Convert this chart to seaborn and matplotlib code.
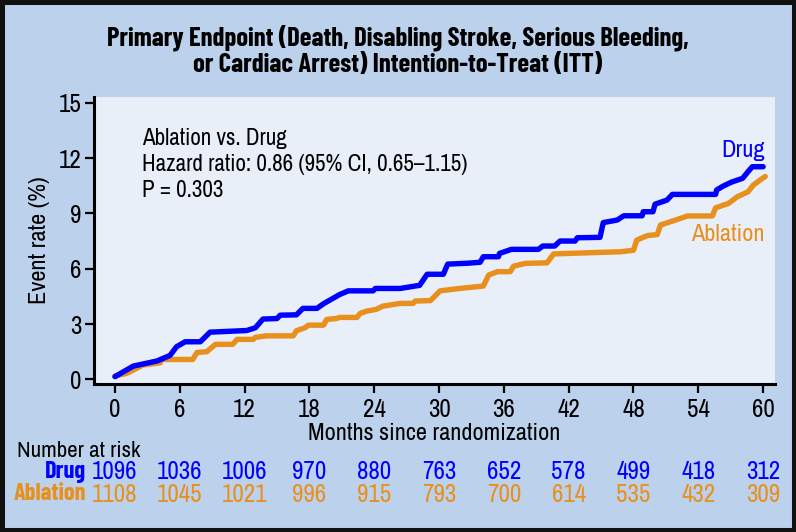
import matplotlib
matplotlib.use("Agg")
import matplotlib.pyplot as plt
import matplotlib.transforms as mtransforms
from matplotlib.patches import Rectangle
import seaborn as sns
import pandas as pd

# ---------------- data ----------------
drug_months = [0, 1.7, 3.9, 5.1, 5.7, 6.5, 7.9, 8.8, 12.2, 13.0, 13.7, 15.0, 15.3, 16.8, 17.4,
               18.7, 19.3, 19.9, 20.8, 21.6, 23.9, 24.1, 26.4, 28.2, 28.9, 30.4, 30.8, 32.7, 33.8,
               34.1, 35.5, 35.6, 36.7, 39.2, 39.6, 40.7, 41.2, 42.6, 42.8, 44.9, 45.2, 46.5, 47.1,
               48.8, 48.9, 49.8, 50.0, 51.1, 51.6, 55.6, 55.7, 56.3, 57.1, 58.1, 58.6, 59.0, 60.0]
drug_rate = [0.15, 0.72, 1.0, 1.3, 1.77, 2.04, 2.04, 2.56, 2.65, 2.8, 3.27, 3.3, 3.48, 3.5, 3.85,
             3.85, 4.1, 4.3, 4.6, 4.8, 4.8, 4.93, 4.93, 5.1, 5.7, 5.7, 6.25, 6.3, 6.35,
             6.65, 6.65, 6.83, 7.05, 7.05, 7.23, 7.23, 7.5, 7.5, 7.68, 7.7, 8.5, 8.64, 8.87,
             8.87, 9.09, 9.09, 9.5, 9.72, 10.03, 10.03, 10.27, 10.48, 10.7, 10.9, 11.26, 11.53, 11.53]

abl_months = [0, 1.1, 2.6, 4.2, 4.3, 7.2, 7.6, 8.5, 9.3, 10.9, 11.3, 12.8, 13.0, 14.0, 16.5,
              16.8, 17.6, 17.9, 19.3, 19.6, 20.5, 20.8, 22.4, 22.7, 23.3, 24.2, 24.8, 26.4, 27.6,
              27.8, 29.2, 30.1, 31.9, 34.1, 34.6, 35.4, 36.6, 36.9, 38.0, 40.0, 40.6, 42.0, 46.8,
              48.0, 48.3, 49.3, 50.2, 50.5, 51.9, 53.0, 55.3, 55.6, 56.8, 57.6, 58.6, 59.1, 59.7, 60.2]
abl_rate = [0.18, 0.33, 0.78, 0.9, 1.08, 1.08, 1.46, 1.5, 1.9, 1.9, 2.17, 2.17, 2.28, 2.36, 2.36,
            2.64, 2.8, 2.94, 2.94, 3.25, 3.3, 3.36, 3.36, 3.58, 3.7, 3.8, 3.97, 4.12, 4.12,
            4.25, 4.27, 4.8, 4.93, 5.06, 5.66, 5.84, 5.84, 6.14, 6.29, 6.32, 6.8, 6.83, 6.92,
            7.0, 7.55, 7.8, 7.85, 8.37, 8.64, 8.86, 8.86, 9.3, 9.54, 9.9, 10.17, 10.54, 10.8, 11.0]

x_ticks = [0, 6, 12, 18, 24, 30, 36, 42, 48, 54, 60]
y_ticks = [0, 3, 6, 9, 12, 15]
risk_drug = [1096, 1036, 1006, 970, 880, 763, 652, 578, 499, 418, 312]
risk_abl = [1108, 1045, 1021, 996, 915, 793, 700, 614, 535, 432, 309]

title_lines = ["Primary Endpoint (Death, Disabling Stroke, Serious Bleeding,",
               "or Cardiac Arrest) Intention-to-Treat (ITT)"]
annot_lines = ["Ablation vs. Drug", "Hazard ratio: 0.86 (95% CI, 0.65\u20131.15)", "P = 0.303"]

# ---------------- style ----------------
BLUE = "#0000ff"
ORANGE = "#e8901e"
FIG_BG = "#bcd1ec"
AX_BG = "#e8eff8"

sns.set_theme(style="ticks")
plt.rcParams['font.family'] = ['Archivo Narrow', 'DejaVu Sans']
BOLD_FAMILY = ['Barlow Condensed', 'Archivo Narrow', 'DejaVu Sans']

df = pd.concat([
    pd.DataFrame({"month": drug_months, "rate": drug_rate, "arm": "Drug"}),
    pd.DataFrame({"month": abl_months, "rate": abl_rate, "arm": "Ablation"}),
])

W, H = 796, 532
fig = plt.figure(figsize=(W / 100, H / 100), dpi=100, facecolor=FIG_BG)
ax_l, ax_r, ax_t, ax_b = 94, 775, 97, 384
ax = fig.add_axes([ax_l / W, 1 - ax_b / H, (ax_r - ax_l) / W, (ax_b - ax_t) / H])
ax.set_facecolor(AX_BG)

sns.lineplot(data=df, x="month", y="rate", hue="arm", palette={"Drug": BLUE, "Ablation": ORANGE},
             hue_order=["Ablation", "Drug"], estimator=None, sort=False, linewidth=3.9,
             legend=False, ax=ax)

ax.set_xlim(-1.94, 61.1)
ax.set_ylim(-0.25, 15.31)
ax.set_xticks(x_ticks)
ax.set_yticks(y_ticks)
ax.set_xticklabels([str(v) for v in x_ticks])
ax.set_yticklabels([str(v) for v in y_ticks])

for s in ["top", "right"]:
    ax.spines[s].set_visible(False)
for s in ["left", "bottom"]:
    ax.spines[s].set_linewidth(2.2)
    ax.spines[s].set_color("black")
ax.tick_params(axis="both", direction="out", length=6.5, width=1.6, color="black",
               labelsize=18, labelcolor="black")
ax.tick_params(axis="y", pad=2.5)
ax.tick_params(axis="x", pad=3.5)

ax.set_xlabel("Months since randomization", fontsize=17.5, color="black")
ax.xaxis.set_label_coords(0.5, (ax_b - 433) / (ax_b - ax_t))
ax.xaxis.label.set_verticalalignment("center")
ax.set_ylabel("Event rate (%)", fontsize=17.5, color="black")
ax.yaxis.set_label_coords((39 - ax_l) / (ax_r - ax_l), 0.5)
ax.yaxis.label.set_verticalalignment("center")

# annotation (baselines)
for line, base_px in zip(annot_lines, [145, 170.7, 197.3]):
    fig.text(142 / W, 1 - base_px / H, line, fontsize=16.6, color="black",
             ha="left", va="baseline")

ax.text(60.2, 12.43, "Drug", color=BLUE, fontsize=17.5, ha="right", va="center")
ax.text(60.1, 7.88, "Ablation", color=ORANGE, fontsize=17.5, ha="right", va="center")

for line, cy in zip(title_lines, [37.7, 65]):
    fig.text(0.5, 1 - cy / H, line, ha="center", va="center", fontsize=19.2,
             fontweight="bold", color="black", family=BOLD_FAMILY)

# number at risk table
trans = mtransforms.blended_transform_factory(ax.transData, fig.transFigure)
y_drug = 1 - 471.7 / H
y_abl = 1 - 494 / H
fig.text(17 / W, 1 - 451 / H, "Number at risk", fontsize=16.5, color="black", ha="left", va="center")
fig.text(86 / W, y_drug, "Drug", fontsize=17.5, color=BLUE, ha="right", va="center",
         fontweight="bold", family=BOLD_FAMILY)
fig.text(86 / W, y_abl, "Ablation", fontsize=17.5, color=ORANGE, ha="right", va="center",
         fontweight="bold", family=BOLD_FAMILY)
for xv, d, a in zip(x_ticks, risk_drug, risk_abl):
    ax.text(xv, y_drug, str(d), transform=trans, fontsize=18, color=BLUE, ha="center", va="center",
            clip_on=False)
    ax.text(xv, y_abl, str(a), transform=trans, fontsize=18, color=ORANGE, ha="center", va="center",
            clip_on=False)

# black frame around the figure
fig.patches.append(Rectangle((0, 0), 1, 1, transform=fig.transFigure, fill=False,
                             edgecolor="#111111", linewidth=6.5, zorder=10))

fig.savefig("out.png", dpi=100, facecolor=FIG_BG)
